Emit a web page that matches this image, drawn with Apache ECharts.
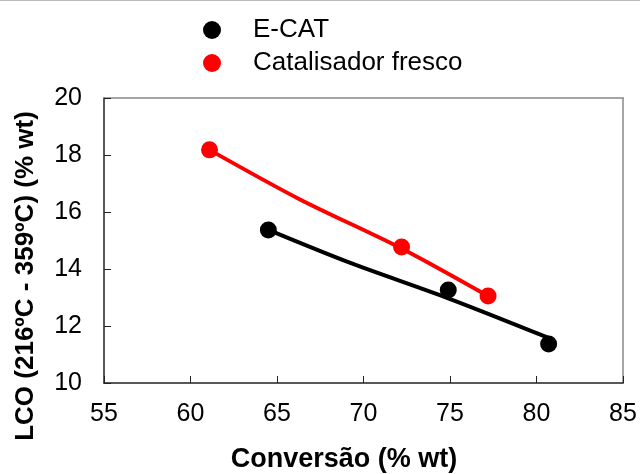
<!DOCTYPE html>
<html>
<head>
<meta charset="utf-8">
<script src="https://cdn.jsdelivr.net/npm/echarts@6/dist/echarts.min.js"></script>
<style>
  html, body { margin: 0; padding: 0; background: #fff; }
  #chart { width: 640px; height: 474px; }
</style>
</head>
<body>
<div id="chart"></div>
<script>
// measured points
var ecat = [[64.5, 15.37], [74.9, 13.26], [80.7, 11.37]];
var fresco = [[61.1, 18.18], [72.2, 14.77], [77.2, 13.05]];
// trend lines
var ecatTrend = [[64.5, 15.37], [69.2, 14.22], [74.9, 12.97], [80.7, 11.58]];
var frescoTrend = [[61.1, 18.18], [66.3, 16.45], [72.2, 14.72], [77.2, 13.05]];
var xTicks = [55, 60, 65, 70, 75, 80, 85];
var yTicks = [10, 12, 14, 16, 18, 20];
var xTitle = "Conversão (% wt)";
var yTitle = "LCO (216ºC - 359ºC) (% wt)";

var font = "Liberation Sans, Arial, sans-serif";

var chart = echarts.init(document.getElementById("chart"));
chart.setOption({
  animation: false,
  textStyle: { fontFamily: font },
  legend: {
    orient: "vertical",
    left: 203,
    top: 17,
    padding: 0,
    itemGap: 7,
    itemWidth: 18,
    itemHeight: 18,
    icon: "circle",
    data: ["E-CAT", "Catalisador fresco"],
    textStyle: {
      fontFamily: font,
      fontSize: 26,
      lineHeight: 26,
      color: "#000",
      padding: [0, 0, 0, 27],
    },
  },
  graphic: [
    {
      type: "line",
      shape: { x1: 0, y1: 0.5, x2: 640, y2: 0.5 },
      style: { stroke: "#bbb", lineWidth: 1 },
    },
    {
      type: "text",
      x: 344,
      y: 460,
      style: {
        text: xTitle,
        font: "bold 27px " + font,
        fill: "#000",
        align: "center",
        verticalAlign: "middle",
      },
    },
    {
      type: "text",
      x: 26,
      y: 276,
      rotation: Math.PI / 2,
      style: {
        text: yTitle,
        font: "bold 26px " + font,
        fill: "#000",
        align: "center",
        verticalAlign: "middle",
      },
    },
  ],
  grid: {
    left: 104,
    top: 98,
    right: 17,
    bottom: 91,
  },
  xAxis: [
    {
      type: "value",
      min: xTicks[0],
      max: xTicks[xTicks.length - 1],
      interval: 5,
      axisLine: { lineStyle: { color: "#222", width: 1.5 } },
      axisTick: { inside: true, length: 7, lineStyle: { color: "#222" } },
      axisLabel: { fontSize: 25, color: "#000", margin: 19, fontFamily: font },
      splitLine: { show: false },
    },
    {
      type: "value",
      position: "top",
      min: 55,
      max: 85,
      axisLine: { lineStyle: { color: "#888", width: 1.5 } },
      axisTick: { show: false },
      axisLabel: { show: false },
      splitLine: { show: false },
    },
  ],
  yAxis: [
    {
      type: "value",
      min: yTicks[0],
      max: yTicks[yTicks.length - 1],
      interval: 2,
      axisLine: { lineStyle: { color: "#222", width: 1.5 } },
      axisTick: { inside: true, length: 7, lineStyle: { color: "#222" } },
      axisLabel: { fontSize: 25, color: "#000", margin: 22, fontFamily: font },
      splitLine: { show: false },
    },
    {
      type: "value",
      position: "right",
      min: 10,
      max: 20,
      axisLine: { show: true, lineStyle: { color: "#888", width: 1.5 } },
      axisTick: { show: false },
      axisLabel: { show: false },
      splitLine: { show: false },
    },
  ],
  series: [
    {
      name: "E-CAT trend",
      type: "line",
      data: ecatTrend,
      smooth: 0.3,
      showSymbol: false,
      lineStyle: { color: "#000", width: 4 },
      z: 2,
    },
    {
      name: "fresco trend",
      type: "line",
      data: frescoTrend,
      smooth: 0.3,
      showSymbol: false,
      lineStyle: { color: "#ff0000", width: 4 },
      z: 2,
    },
    {
      name: "E-CAT",
      type: "scatter",
      data: ecat,
      symbolSize: 17,
      itemStyle: { color: "#000", opacity: 1 },
      z: 3,
    },
    {
      name: "Catalisador fresco",
      type: "scatter",
      data: fresco,
      symbolSize: 17,
      itemStyle: { color: "#ff0000", opacity: 1 },
      z: 3,
    },
  ],
});
</script>
</body>
</html>
